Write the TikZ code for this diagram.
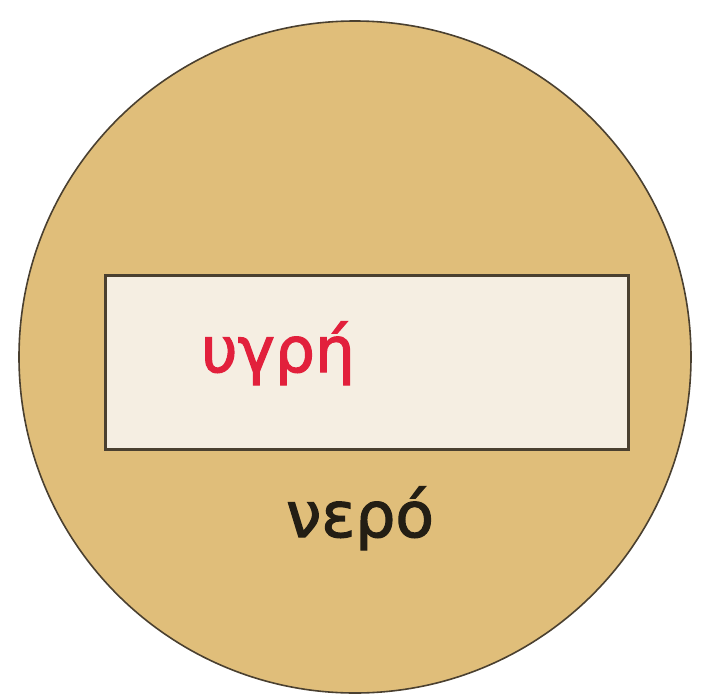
\documentclass[tikz,border=0pt]{standalone}
\usepackage{fontspec}
\newfontfamily\grfont[FakeBold=2]{DejaVu Sans}
\definecolor{disc}{HTML}{E0BE7A}
\definecolor{discline}{HTML}{4A4030}
\definecolor{boxfill}{HTML}{F5EEE2}
\definecolor{boxline}{HTML}{4A4030}
\definecolor{redtxt}{HTML}{E2203C}
\definecolor{darktxt}{HTML}{231E14}
\tikzset{
  discshape/.style={circle, fill=disc, draw=discline, line width=1.6pt, minimum size=672pt, inner sep=0pt},
  boxshape/.style={rectangle, fill=boxfill, draw=boxline, line width=3pt, minimum width=523pt, minimum height=174pt, inner sep=0pt},
  lbl/.style={font=\grfont\fontsize{63}{70}\selectfont, inner sep=0pt, anchor=base}
}
\begin{document}
\begin{tikzpicture}[x=1pt,y=-1pt]
\useasboundingbox (0,0) rectangle (705,697);
\fill[white] (0,0) rectangle (705,697);
\node[discshape] (disc) at (355,357) {};
\node[boxshape] (box) at (366.5,362) {};
\node[lbl, text=redtxt] (liquid) at (278,372) {υγρή};
\node[lbl, text=darktxt] (water) at (360,537) {νερό};
\end{tikzpicture}
\end{document}
